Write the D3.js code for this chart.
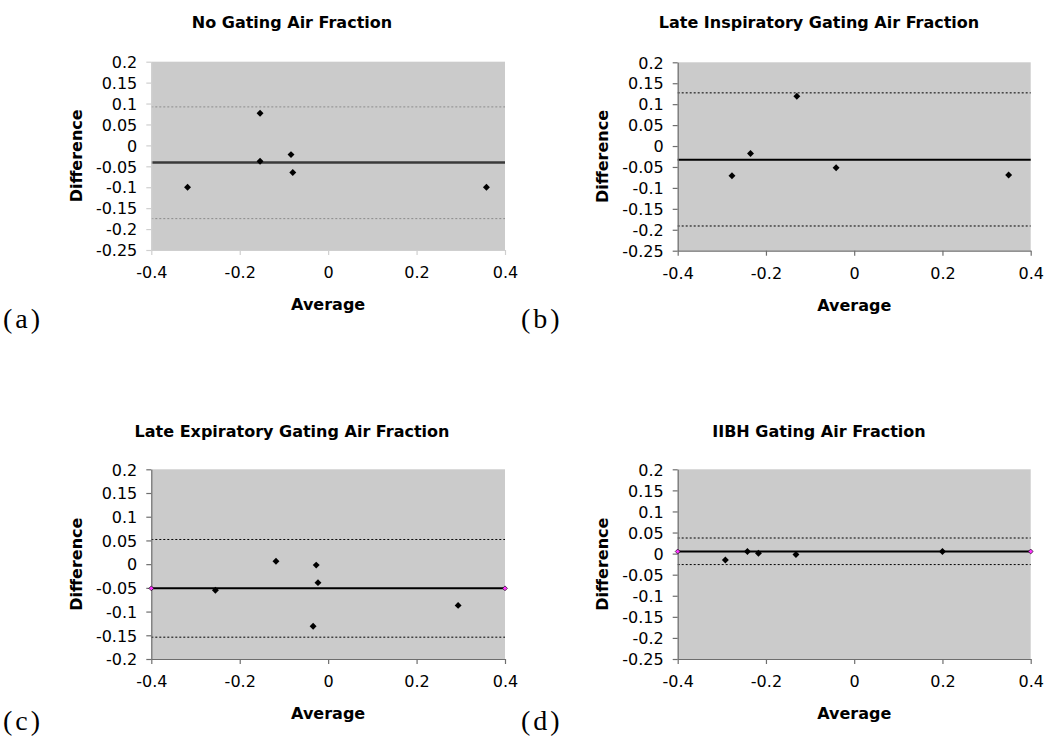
<!DOCTYPE html>
<html>
<head>
<meta charset="utf-8">
<script src="https://cdn.jsdelivr.net/npm/d3@7"></script>
<style>
  html, body { margin: 0; padding: 0; background: #ffffff; }
  svg { display: block; }
  text { font-family: "DejaVu Sans", Verdana, sans-serif; }
</style>
</head>
<body>
<svg id="chart" width="1054" height="742"></svg>
<script>
// Bland-Altman style panels: average vs difference of air fraction measurements

// (a) No gating
const noGatingAvg  = [-0.318, -0.154, -0.154, -0.084, -0.080, 0.358];
const noGatingDiff = [-0.100, 0.077, -0.038, -0.022, -0.065, -0.100];
const noGatingLines = [-0.041, 0.092, -0.175];   // mean, upper limit, lower limit

// (b) Late inspiratory gating
const lateInspAvg  = [-0.277, -0.235, -0.130, -0.041, 0.350];
const lateInspDiff = [-0.071, -0.018, 0.119, -0.052, -0.069];
const lateInspLines = [-0.033, 0.127, -0.191];

// (c) Late expiratory gating
const lateExpAvg  = [-0.255, -0.118, -0.027, -0.023, -0.034, 0.294];
const lateExpDiff = [-0.055, 0.006, -0.002, -0.039, -0.131, -0.087];
const lateExpLines = [-0.051, 0.052, -0.154];

// (d) IIBH gating
const iibhAvg  = [-0.292, -0.242, -0.217, -0.132, 0.200];
const iibhDiff = [-0.015, 0.005, 0.001, -0.002, 0.005];
const iibhLines = [0.005, 0.037, -0.026];

// Axis ticks
const xTicks = [-0.4, -0.2, 0, 0.2, 0.4];
const xTickLabels = ["-0.4", "-0.2", "0", "0.2", "0.4"];
const yTicksWide = [0.2, 0.15, 0.1, 0.05, 0, -0.05, -0.1, -0.15, -0.2, -0.25];
const yTickLabelsWide = ["0.2", "0.15", "0.1", "0.05", "0", "-0.05", "-0.1", "-0.15", "-0.2", "-0.25"];
const yTicksNarrow = [0.2, 0.15, 0.1, 0.05, 0, -0.05, -0.1, -0.15, -0.2];
const yTickLabelsNarrow = ["0.2", "0.15", "0.1", "0.05", "0", "-0.05", "-0.1", "-0.15", "-0.2"];

const titles = [
  "No Gating Air Fraction",
  "Late Inspiratory Gating Air Fraction",
  "Late Expiratory Gating Air Fraction",
  "IIBH Gating Air Fraction"
];
const panelTags = ["(a)", "(b)", "(c)", "(d)"];

const svg = d3.select("#chart");

const panels = [
  { avg: noGatingAvg, diff: noGatingDiff, lines: noGatingLines, yDomain: [-0.25, 0.2],
    yTicks: yTicksWide, yLabels: yTickLabelsWide,
    box: { left: 151.3, right: 505, top: 61.7, bottom: 250 }, titleX: 292, titleY: 27.5,
    tagX: 3, tagY: 328, axisColor: "#cfcfcf", meanColor: "#3a3a3a", meanWidth: 2.6,
    limitColor: "#8c8c8c", endMarks: false },
  { avg: lateInspAvg, diff: lateInspDiff, lines: lateInspLines, yDomain: [-0.25, 0.2],
    yTicks: yTicksWide, yLabels: yTickLabelsWide,
    box: { left: 677.7, right: 1030.7, top: 62.3, bottom: 250.7 }, titleX: 819, titleY: 28,
    tagX: 521, tagY: 328, axisColor: "#6e6e6e", meanColor: "#000000", meanWidth: 2,
    limitColor: "#000000", endMarks: false },
  { avg: lateExpAvg, diff: lateExpDiff, lines: lateExpLines, yDomain: [-0.2, 0.2],
    yTicks: yTicksNarrow, yLabels: yTickLabelsNarrow,
    box: { left: 151.3, right: 505, top: 469.3, bottom: 659 }, titleX: 292, titleY: 437,
    tagX: 3, tagY: 730, axisColor: "#6e6e6e", meanColor: "#000000", meanWidth: 2,
    limitColor: "#000000", endMarks: true },
  { avg: iibhAvg, diff: iibhDiff, lines: iibhLines, yDomain: [-0.25, 0.2],
    yTicks: yTicksWide, yLabels: yTickLabelsWide,
    box: { left: 677.7, right: 1030.7, top: 469.3, bottom: 659 }, titleX: 819, titleY: 437,
    tagX: 521, tagY: 730, axisColor: "#6e6e6e", meanColor: "#000000", meanWidth: 2,
    limitColor: "#000000", endMarks: true }
];

panels.forEach((p, i) => {
  const b = p.box;
  const x = d3.scaleLinear().domain([-0.4, 0.4]).range([b.left, b.right]);
  const y = d3.scaleLinear().domain(p.yDomain).range([b.bottom, b.top]);
  const g = svg.append("g");

  // plot area
  g.append("rect")
    .attr("x", b.left).attr("y", b.top)
    .attr("width", b.right - b.left).attr("height", b.bottom - b.top)
    .attr("fill", "#cbcbcb");

  // limits of agreement (dotted) and mean difference (solid)
  const [mean, upper, lower] = p.lines;
  [upper, lower].forEach(v => {
    g.append("line")
      .attr("x1", x(-0.4)).attr("x2", x(0.4))
      .attr("y1", y(v)).attr("y2", y(v))
      .attr("stroke", p.limitColor).attr("stroke-width", 1)
      .attr("stroke-dasharray", "2,2");
  });
  g.append("line")
    .attr("x1", x(-0.4)).attr("x2", x(0.4))
    .attr("y1", y(mean)).attr("y2", y(mean))
    .attr("stroke", p.meanColor).attr("stroke-width", p.meanWidth);

  // axes
  const yAxis = d3.axisLeft(y).tickValues(p.yTicks)
    .tickFormat((d, k) => p.yLabels[k]).tickSizeInner(5).tickSizeOuter(0).tickPadding(9);
  const xAxis = d3.axisBottom(x).tickValues(xTicks)
    .tickFormat((d, k) => xTickLabels[k]).tickSizeInner(5).tickSizeOuter(0).tickPadding(12);

  const ya = g.append("g").attr("transform", `translate(${b.left},0)`).call(yAxis);
  const xa = g.append("g").attr("transform", `translate(0,${b.bottom})`).call(xAxis);
  [ya, xa].forEach(a => {
    a.select(".domain").attr("stroke", p.axisColor).attr("stroke-width", 1.2);
    a.selectAll(".tick line").attr("stroke", p.axisColor).attr("stroke-width", 1.2);
    a.selectAll(".tick text").attr("font-family", "DejaVu Sans, Verdana, sans-serif")
      .attr("font-size", 16).attr("fill", "#000");
  });
  ya.selectAll(".tick text").attr("dy", "0.36em");

  // data points
  const diamond = d3.symbol().type(d3.symbolSquare).size(24);
  g.selectAll("path.pt").data(p.avg.map((a, k) => [a, p.diff[k]]))
    .enter().append("path")
    .attr("class", "pt")
    .attr("d", diamond)
    .attr("transform", d => `translate(${x(d[0])},${y(d[1])}) rotate(45)`)
    .attr("fill", "#000");

  // end markers of the mean line
  if (p.endMarks) {
    const endMark = d3.symbol().type(d3.symbolSquare).size(12);
    [-0.4, 0.4].forEach(v => {
      g.append("path")
        .attr("d", endMark)
        .attr("transform", `translate(${x(v)},${y(mean)}) rotate(45)`)
        .attr("fill", "#ff33ff").attr("stroke", "#000").attr("stroke-width", 0.6);
    });
  }

  // titles
  g.append("text")
    .attr("x", p.titleX).attr("y", p.titleY)
    .attr("text-anchor", "middle")
    .attr("font-size", 16).attr("font-weight", "bold")
    .text(titles[i]);

  g.append("text")
    .attr("x", (b.left + b.right) / 2).attr("y", b.bottom + 60)
    .attr("text-anchor", "middle")
    .attr("font-size", 16).attr("font-weight", "bold")
    .text("Average");

  g.append("text")
    .attr("transform", `translate(${b.left - 75},${(b.top + b.bottom) / 2}) rotate(-90)`)
    .attr("text-anchor", "middle").attr("dy", "0.36em")
    .attr("font-size", 16).attr("font-weight", "bold")
    .text("Difference");

  // panel tag
  g.append("text")
    .attr("x", p.tagX).attr("y", p.tagY)
    .style("font-family", "'Liberation Serif', 'Times New Roman', serif")
    .attr("font-size", 28).attr("letter-spacing", 3)
    .text(panelTags[i]);
});
</script>
</body>
</html>
